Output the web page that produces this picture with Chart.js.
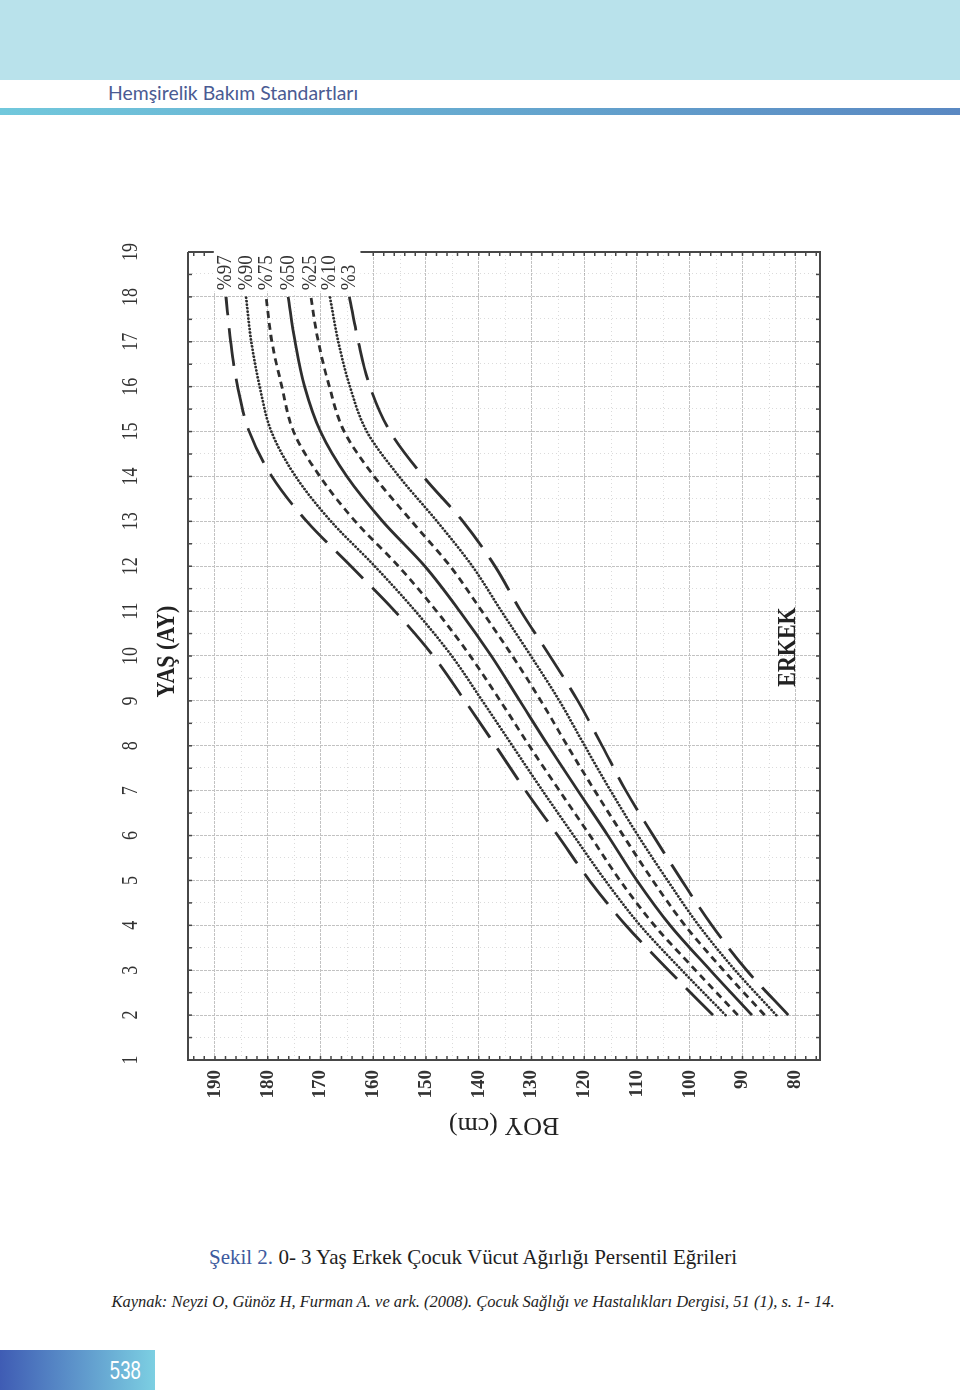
<!DOCTYPE html>
<html>
<head>
<meta charset="utf-8">
<script src="https://cdn.jsdelivr.net/npm/chart.js@4.4.1/dist/chart.umd.min.js"></script>
<style>
  body { margin: 0; width: 960px; height: 1392px; position: relative; background: #fff; overflow: hidden; }
  #band { position: absolute; left: 0; top: 0; width: 960px; height: 80px; background: #b9e2eb; }
  #head { position: absolute; left: 108px; top: 80px; font: 19.4px Lato, sans-serif; color: #4a5b93; line-height: 26px; white-space: nowrap; }
  #rule { position: absolute; left: 0; top: 108px; width: 960px; height: 7px; background: linear-gradient(90deg, #71c8dc, #5a88c2); }
  #wrap { position: absolute; left: 100px; top: 240px; width: 910px; height: 750px;
          transform-origin: 0 0; transform: translate(0, 910px) rotate(-90deg); }
  #caption { position: absolute; left: 0; width: 946px; top: 1245px; text-align: center; font: 21px "Liberation Serif", serif; color: #1e1e1e; white-space: nowrap; }
  #caption b { font-weight: normal; color: #3d5a9e; }
  #source { position: absolute; left: 0; width: 946px; top: 1292px; text-align: center; font: italic 16.5px "Liberation Serif", serif; color: #1e1e1e; white-space: nowrap; }
  #page { position: absolute; left: 0; top: 1350px; width: 155px; height: 40px; background: linear-gradient(90deg, #3f5cb4, #7ccfe2); }
  #page span { position: absolute; right: 14px; top: 6px; font: 25px "Liberation Sans", sans-serif; color: #fff; transform: scaleX(0.74); transform-origin: right center; }
</style>
</head>
<body>
<div id="band"></div>
<div id="head">Hemşirelik Bakım Standartları</div>
<div id="rule"></div>
<div id="wrap"><canvas id="c" width="910" height="750"></canvas></div>
<div id="caption"><b>Şekil 2.</b> 0- 3 Yaş Erkek Çocuk Vücut Ağırlığı Persentil Eğrileri</div>
<div id="source">Kaynak: Neyzi O, Günöz H, Furman A. ve ark. (2008). Çocuk Sağlığı ve Hastalıkları Dergisi, 51 (1), s. 1- 14.</div>
<div id="page"><span>538</span></div>
<script>
// ages (x) and percentile heights in cm
const ages = [2, 3, 4, 5, 6, 7, 8, 9, 10, 11, 12, 13, 14, 15, 16, 17, 18];
const p97 = [95.6, 104.0, 112.1, 119.0, 125.0, 131.1, 136.8, 142.6, 148.6, 155.9, 164.2, 172.6, 179.2, 183.5, 185.7, 187.0, 187.9];
const p90 = [93.2, 101.5, 109.4, 116.0, 122.0, 127.9, 133.6, 139.3, 145.1, 152.0, 159.7, 168.0, 174.7, 179.3, 181.5, 183.1, 184.1];
const p75 = [90.9, 98.9, 106.7, 113.2, 118.9, 124.7, 130.4, 135.9, 141.6, 148.0, 155.2, 163.4, 170.1, 175.1, 177.3, 179.2, 180.3];
const p50 = [88.2, 96.1, 103.7, 110.0, 115.5, 121.2, 126.8, 132.2, 137.6, 143.6, 150.2, 158.2, 165.0, 170.0, 173.0, 174.8, 176.1];
const p25 = [85.8, 93.6, 100.9, 107.0, 112.6, 118.0, 123.2, 128.2, 133.6, 139.4, 145.4, 152.7, 159.8, 165.5, 168.3, 170.4, 171.8];
const p10 = [83.6, 91.4, 98.3, 104.2, 109.8, 115.0, 119.9, 124.7, 130.1, 135.7, 141.2, 147.9, 155.1, 161.2, 164.4, 166.6, 168.2];
const p3 = [81.3, 89.2, 95.8, 101.5, 106.9, 112.1, 116.6, 121.2, 126.5, 132.0, 136.9, 143.0, 150.5, 156.8, 160.6, 162.8, 164.5];

const percentLabels = ['%97', '%90', '%75', '%50', '%25', '%10', '%3'];
const ageTicks = [1, 2, 3, 4, 5, 6, 7, 8, 9, 10, 11, 12, 13, 14, 15, 16, 17, 18, 19];
const heightTicks = [80, 90, 100, 110, 120, 130, 140, 150, 160, 170, 180, 190];

const ink = '#2e2e2e';
const series = [p97, p90, p75, p50, p25, p10, p3];
const dashes = [[38, 13], [0.1, 3.4], [7, 5], [], [7, 5], [0.1, 3.4], [38, 13]];
const widths = [2.8, 2.8, 2.8, 2.8, 2.8, 2.8, 2.8];
const caps = ['butt', 'round', 'butt', 'butt', 'butt', 'round', 'butt'];

const datasets = series.map((vals, i) => ({
  label: percentLabels[i],
  data: ages.map((a, j) => ({ x: a, y: vals[j] })),
  borderColor: ink,
  borderWidth: widths[i],
  borderDash: dashes[i],
  borderCapStyle: caps[i],
  pointRadius: 0,
  fill: false,
  cubicInterpolationMode: 'monotone'
}));

function txt(ctx, s, x, y, o) {
  ctx.save();
  ctx.translate(x, y);
  if (o.rot) ctx.rotate(o.rot);
  ctx.scale(o.sx || 1, o.sy || 1);
  ctx.font = o.font;
  ctx.fillStyle = o.color || ink;
  ctx.textAlign = o.align || 'center';
  ctx.textBaseline = o.base || 'middle';
  ctx.fillText(s, 0, 0);
  ctx.restore();
}

// minor grid, label box, frame, tick marks and texts
const decor = {
  id: 'decor',
  beforeDatasetsDraw(chart) {
    const { ctx, chartArea: a, scales: { x, y } } = chart;
    ctx.save();
    ctx.strokeStyle = 'rgba(0,0,0,0.14)';
    ctx.lineWidth = 1;
    ctx.setLineDash([1, 3]);
    ctx.beginPath();
    for (let v = 1.5; v < 19; v += 1) {
      const px = Math.round(x.getPixelForValue(v)) + 0.5;
      ctx.moveTo(px, a.top); ctx.lineTo(px, a.bottom);
    }
    for (let v = 85; v < 195; v += 10) {
      const py = Math.round(y.getPixelForValue(v)) + 0.5;
      ctx.moveTo(a.left, py); ctx.lineTo(a.right, py);
    }
    ctx.stroke();
    ctx.setLineDash([]);
    // white patch behind the percentile labels
    const top = y.getPixelForValue(190.2), bot = y.getPixelForValue(162.4);
    ctx.fillStyle = '#fff';
    ctx.fillRect(x.getPixelForValue(18.12), top, a.right - x.getPixelForValue(18.12) + 2, bot - top);
    ctx.restore();
  },
  afterDatasetsDraw(chart) {
    const { ctx, chartArea: a, scales: { x, y } } = chart;
    ctx.save();
    ctx.strokeStyle = '#474747';
    ctx.lineWidth = 2;
    ctx.beginPath();
    ctx.moveTo(a.right, a.top); ctx.lineTo(a.right, y.getPixelForValue(190.2));
    ctx.moveTo(a.right, y.getPixelForValue(162.4)); ctx.lineTo(a.right, a.bottom);
    ctx.lineTo(a.left, a.bottom); ctx.lineTo(a.left, a.top); ctx.lineTo(a.right, a.top);
    ctx.stroke();
    // inward tick marks
    ctx.lineWidth = 1.5;
    ctx.beginPath();
    for (let v = 1.5; v < 19; v += 0.5) {
      const px = x.getPixelForValue(v);
      ctx.moveTo(px, a.top); ctx.lineTo(px, a.top + 4);
      ctx.moveTo(px, a.bottom); ctx.lineTo(px, a.bottom - 4);
    }
    for (let v = 76; v < 195; v += 2) {
      const py = y.getPixelForValue(v);
      ctx.moveTo(a.left, py); ctx.lineTo(a.left + 4, py);
      if (v < 162 || v > 190) { ctx.moveTo(a.right, py); ctx.lineTo(a.right - 4, py); }
    }
    ctx.stroke();
    ctx.restore();

    // age tick labels (top of the unrotated chart)
    ageTicks.forEach(v => txt(ctx, String(v), x.getPixelForValue(v), 31,
      { font: '18px "Liberation Serif"', sy: 1.3, color: '#333' }));
    txt(ctx, 'YAŞ (AY)', x.getPixelForValue(10.1), 68,
      { font: 'bold 22px "Liberation Serif"', sy: 1.1, color: '#222' });
    txt(ctx, 'BOY (cm)', 25, (a.top + a.bottom) / 2,
      { font: '26px "Liberation Serif"', rot: -Math.PI / 2, color: '#222' });
    txt(ctx, 'ERKEK', x.getPixelForValue(10.2), y.getPixelForValue(81.3),
      { font: 'bold 22px "Liberation Serif"', sy: 1.15, color: '#222' });
    series.forEach((vals, i) => txt(ctx, percentLabels[i], x.getPixelForValue(18.15),
      y.getPixelForValue(vals[vals.length - 1]),
      { font: '19px "Liberation Serif"', sy: 1.1, align: 'left', color: '#333' }));
  }
};

new Chart(document.getElementById('c'), {
  type: 'line',
  data: { datasets },
  options: {
    responsive: false,
    animation: false,
    devicePixelRatio: 1,
    layout: { padding: { right: 12, bottom: 30 } },
    plugins: { legend: { display: false }, tooltip: { enabled: false } },
    scales: {
      x: {
        type: 'linear', position: 'top', min: 1, max: 19,
        afterFit: s => { s.height = 88; },
        afterBuildTicks: s => { s.ticks = ageTicks.map(v => ({ value: v })); },
        ticks: { display: false },
        grid: { color: '#c2c2c2', lineWidth: 1, drawTicks: false },
        border: { display: false, dash: [3, 1] }
      },
      y: {
        type: 'linear', min: 75.3, max: 195.1,
        afterFit: s => { s.width = 90; },
        afterBuildTicks: s => { s.ticks = heightTicks.map(v => ({ value: v })); },
        ticks: { padding: 10, color: '#333', font: { family: 'Liberation Serif', size: 19, weight: 'bold' } },
        grid: { color: '#c2c2c2', lineWidth: 1, drawTicks: false },
        border: { display: false, dash: [3, 1] }
      }
    }
  },
  plugins: [decor]
});
</script>
</body>
</html>
